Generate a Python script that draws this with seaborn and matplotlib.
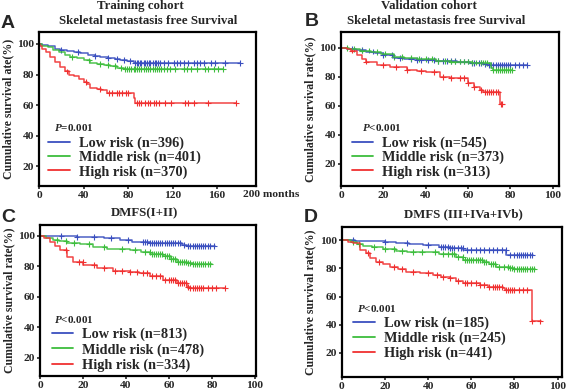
import numpy as np
import pandas as pd
import matplotlib
matplotlib.use('Agg')
import matplotlib.pyplot as plt
from matplotlib.lines import Line2D
import seaborn as sns

# ---- data (time in months, survival in %) ----
# Panel A: training cohort, skeletal metastasis free survival
a_low_t = [0, 3, 8, 14, 19, 25, 31, 37, 44, 50, 55, 62, 68, 73, 79, 85, 181]
a_low_s = [100, 99.5, 98.5, 97, 96, 95.2, 94.5, 93.9, 93, 92.3, 91.7, 90.8, 90, 89.5, 88.7, 87.7, 87.7]
a_mid_t = [0, 3, 8, 13, 18, 23, 28, 34, 40, 46, 52, 58, 64, 70, 76, 165]
a_mid_s = [100, 99, 97.8, 96, 94.5, 93, 91.7, 90.5, 89.2, 87.7, 87, 86.3, 85.6, 84.5, 83.4, 83.4]
a_high_t = [0, 1, 3, 6, 10, 14, 19, 23, 27, 31, 36, 40, 43, 46, 52, 56, 61, 82, 85, 86.5, 177]
a_high_s = [100, 98.5, 97, 94.5, 91.7, 88.5, 85, 82, 80, 79, 77, 75.3, 73.5, 71, 70.3, 69.8, 67.7, 67.7, 64.4, 61.5, 61.5]
a_low_c = [20, 35, 50, 62, 70, 76, 82, 86, 88, 89, 91, 92, 94, 95, 97, 99, 100, 102, 104, 105, 107, 109,
           112, 116, 121, 124, 127, 130, 134, 139, 142, 145, 148, 155, 158, 167, 181]
a_mid_c = [30, 45, 55, 62, 68, 74, 77, 79, 81, 83, 85, 86, 88, 90, 92, 94, 96, 98, 100, 102, 104, 106,
           108, 110, 112, 115, 118, 122, 130, 133, 137, 142, 149, 152, 157, 161, 165]
a_high_c = [25, 42, 55, 63, 66, 70, 72, 75, 78, 80, 88, 90, 92, 95, 98, 100, 103, 105, 108, 113, 119,
            131, 134, 139, 152, 177]

# Panel B: validation cohort
b_low_t = [0, 3, 7, 12, 16, 20, 25, 30, 36, 45, 55, 61, 67, 69, 88]
b_low_s = [100, 99.5, 98.5, 97.5, 96.3, 95.2, 93, 92.5, 91.7, 91.2, 90.6, 89.4, 89, 88.3, 88.3]
b_mid_t = [0, 4, 9, 14, 19, 25, 30, 36, 45, 52, 62, 69, 71, 72, 81]
b_mid_s = [100, 99.3, 98.2, 97.2, 95.9, 94, 93, 92.2, 91.2, 90.6, 89.9, 89.4, 86, 84.8, 84.8]
b_high_t = [0, 2.7, 4.5, 7.4, 10, 12, 16.8, 23, 31, 36, 40, 46.7, 51.4, 57.7, 60, 63, 65.5, 67, 74.7, 75, 76]
b_high_s = [100, 99.5, 98.2, 95.2, 92.5, 90.6, 88.3, 87.1, 84.8, 84, 83.2, 80.2, 79.5, 79.1, 76.1, 73.3,
            71, 69.9, 69.9, 61.2, 61.2]
b_low_c = [5, 10, 15, 20, 24, 28, 33, 36, 38, 41, 44, 46, 48, 50, 52, 54, 56, 58, 60, 62, 63, 65, 66,
           68, 70, 71, 72, 73, 74, 75, 76, 77, 78, 79, 80, 82, 84, 86, 88]
b_mid_c = [3, 6, 10, 13, 17, 21, 25, 29, 33, 37, 40, 43, 46, 49, 52, 54, 56, 58, 60, 62, 64, 66, 67,
           68, 69, 72, 73, 74, 75, 76, 77, 78, 79, 80, 81]
b_high_c = [5, 12, 20, 26, 31, 38, 44, 48, 52, 56, 58, 60, 63, 66, 68, 69, 70, 71, 72, 73, 74, 75.5, 76]

# Panel C: DMFS (I+II)
c_low_t = [0, 17, 23, 30, 37, 43, 51, 63.6, 66, 68.2, 81.4]
c_low_s = [100, 99.5, 99.2, 98.5, 97.4, 96.2, 95.6, 95.2, 94.3, 93.4, 93.4]
c_mid_t = [0, 3, 6.2, 9, 12.4, 18.6, 24.8, 31, 41.9, 47, 51.2, 57.4, 61, 63.6, 68.2, 71, 79.8]
c_mid_s = [100, 98.5, 97.4, 96.5, 95.6, 94.7, 93, 91.5, 90.8, 89.5, 88, 86.9, 85, 83.2, 82.1, 81.4, 81.4]
c_high_t = [0, 2, 4.7, 7, 9.3, 12.4, 15.5, 20.1, 26.4, 34.1, 41.9, 46, 51.2, 57.4, 63.6, 68.2, 69.8, 86]
c_high_s = [100, 98.5, 96.3, 93.5, 90.8, 86.4, 83.2, 81, 78.8, 77.3, 76.6, 75.5, 74, 71.1, 69, 66.8, 65.8, 65.8]
c_low_c = [10, 17, 25, 33, 41, 48, 49, 50, 51, 52, 53, 54, 55, 56, 57, 58, 59, 60, 61, 62, 63, 64, 65,
           67, 69, 70, 71, 72, 73, 74, 75, 76, 77, 78, 79, 81]
c_mid_c = [8, 12, 16, 23, 30, 38, 44, 49, 51, 52, 53, 54, 55, 56, 57, 58, 59, 60, 61, 62, 63, 64, 65,
           66, 67, 68, 69, 70, 71, 72, 73, 74, 75, 76, 77, 78, 79]
c_high_c = [12, 18, 20, 25, 30, 35, 38, 42, 45, 48, 50, 52, 54, 56, 58, 60, 61, 62, 63, 64, 65, 66, 67,
            68, 69, 70, 71, 72, 73, 74, 75, 76, 78, 80, 82, 86]

# Panel D: DMFS (III+IVa+IVb)
d_low_t = [0, 6, 14.5, 20, 25.3, 31, 37.6, 45, 50, 56.2, 74.7, 76.2, 88.6]
d_low_s = [100, 99.6, 99.3, 98.4, 97.6, 97, 96.5, 95, 94.1, 92.9, 92.9, 89.4, 89.4]
d_mid_t = [0, 4, 6.8, 9.9, 14, 19.1, 25, 30, 36, 45, 50, 53, 56.2, 65.4, 68, 71.6, 77.8, 80, 89.4]
d_mid_s = [100, 98.5, 97, 96, 95, 93.6, 92.5, 91.7, 91.3, 90.3, 89.9, 88, 85.8, 84.7, 83, 81.2, 80, 79.2, 79.2]
d_high_t = [0, 3, 5.2, 8.3, 11.4, 13, 16, 19, 22.2, 26, 29.9, 36, 42.3, 46, 50, 53, 56.2, 63.9, 67.7,
            74.7, 75.5, 87.8, 88, 92.5]
d_high_s = [100, 98.8, 97.6, 92.9, 90.6, 87, 84.7, 83, 81.1, 79.5, 77.6, 76.5, 75.2, 74, 72.8, 71, 69.3,
            68.1, 67, 66.3, 64.6, 64.6, 42.3, 42.3]
d_low_c = [5, 20, 30, 40, 46, 47, 48, 49, 50, 51, 52, 54, 55, 56, 58, 60, 62, 64, 66, 68, 70, 72, 74,
           76, 78, 80, 81, 82, 83, 84, 85, 86, 87, 88]
d_mid_c = [5, 8, 15, 20, 24, 28, 33, 37, 43, 47, 49, 51, 52, 54, 56, 57, 58, 59, 60, 61, 62, 63, 64,
           65, 66, 67, 69, 70, 71, 73, 75, 77, 78, 79, 80, 81, 82, 83, 84, 85, 86, 87, 88, 89]
d_high_c = [12, 17, 24, 28, 33, 40, 44, 47, 50, 54, 57, 58, 60, 62, 64, 66, 68, 70, 71, 72, 73, 74, 76,
            77, 78, 79, 80, 82, 84, 86, 88, 92]

groups = ['Low risk', 'Middle risk', 'High risk']
palette = {'Low risk': '#3a4fbf', 'Middle risk': '#3dbd3d', 'High risk': '#f03030'}

a_n = [396, 401, 370]
b_n = [545, 373, 313]
c_n = [813, 478, 334]
d_n = [185, 245, 441]
a_p = '$P$=0.001'
b_p = '$P$<0.001'
c_p = '$P$<0.001'
d_p = '$P$<0.001'

sns.set_style('white')
plt.rcParams['font.family'] = ['Liberation Serif', 'DejaVu Serif']
plt.rcParams['font.weight'] = 'bold'
plt.rcParams['axes.labelweight'] = 'bold'
plt.rcParams['mathtext.fontset'] = 'custom'
plt.rcParams['mathtext.it'] = 'Liberation Serif:italic:bold'
plt.rcParams['mathtext.rm'] = 'Liberation Serif:bold'


def make_frames(curves, censors):
    lines, marks = [], []
    for g, (t, s), c in zip(groups, curves, censors):
        lines.append(pd.DataFrame({'time': t, 'surv': s, 'group': g}))
        t = np.asarray(t)
        s = np.asarray(s)
        idx = np.searchsorted(t, c, side='right') - 1
        marks.append(pd.DataFrame({'time': c, 'surv': s[idx], 'group': g}))
    return pd.concat(lines, ignore_index=True), pd.concat(marks, ignore_index=True)


def draw_panel(ax, curves, censors, ns, ptext, xlim, ylim, xticks, ylabel, ptxt_pos, leg_pos, spacing):
    df, cdf = make_frames(curves, censors)
    sns.lineplot(data=df, x='time', y='surv', hue='group', palette=palette, drawstyle='steps-post',
                 estimator=None, sort=False, legend=False, linewidth=1.1, alpha=0.9, ax=ax)
    sns.scatterplot(data=cdf, x='time', y='surv', hue='group', palette=palette, marker='+', s=18,
                    linewidth=0.8, legend=False, ax=ax)
    ax.set_xlim(*xlim)
    ax.set_ylim(*ylim)
    ax.set_xticks(xticks)
    ax.set_yticks([20, 40, 60, 80, 100])
    ax.set_xlabel('')
    ax.set_ylabel(ylabel, fontsize=8.5)
    ax.yaxis.set_label_coords(-0.115, 0.5)
    for sp in ax.spines.values():
        sp.set_visible(True)
        sp.set_linewidth(1.6)
        sp.set_color('black')
    ax.tick_params(axis='both', direction='out', length=2.5, width=1.2, pad=1.2, labelsize=8.2,
                   bottom=True, left=True)
    ax.text(ptxt_pos[0], ptxt_pos[1], ptext, transform=ax.transAxes, fontsize=8, va='center')
    handles = [Line2D([0], [0], color=palette[g], lw=1.3) for g in groups]
    labels = [f'{g} (n={n})' for g, n in zip(groups, ns)]
    ax.legend(handles, labels, loc='upper left', bbox_to_anchor=leg_pos, frameon=False,
              fontsize=10.3, handlelength=1.5, handletextpad=0.65, labelspacing=spacing,
              borderpad=0, borderaxespad=0)


fig = plt.figure(figsize=(5.67, 3.91), dpi=100)
axA = fig.add_axes([0.0688, 0.5243, 0.3827, 0.394])
axB = fig.add_axes([0.6014, 0.5243, 0.3845, 0.394])
axC = fig.add_axes([0.0705, 0.0384, 0.381, 0.3862])
axD = fig.add_axes([0.603, 0.0358, 0.388, 0.3836])

draw_panel(axA, [(a_low_t, a_low_s), (a_mid_t, a_mid_s), (a_high_t, a_high_s)],
           [a_low_c, a_mid_c, a_high_c], a_n, a_p, (0, 195), (6.9, 107.9), [0, 40, 80, 120, 160],
           'Cumulative survival ate(%)', (0.07, 0.379), (0.043, 0.32), 0.05)
axA.text(0.94, -0.058, '200 months', transform=axA.transAxes, fontsize=8.2, va='center',
         ha='left', clip_on=False)

draw_panel(axB, [(b_low_t, b_low_s), (b_mid_t, b_mid_s), (b_high_t, b_high_s)],
           [b_low_c, b_mid_c, b_high_c], b_n, b_p, (0, 103), (4.8, 111), [0, 20, 40, 60, 80, 100],
           'Cumulative survival rate(%)', (0.098, 0.379), (0.049, 0.32), 0.05)

draw_panel(axC, [(c_low_t, c_low_s), (c_mid_t, c_mid_s), (c_high_t, c_high_s)],
           [c_low_c, c_mid_c, c_high_c], c_n, c_p, (0, 100.5), (8.2, 107.2), [0, 20, 40, 60, 80, 100],
           'Cumulative survival rate(%)', (0.066, 0.377), (0.054, 0.318), 0.12)

draw_panel(axD, [(d_low_t, d_low_s), (d_mid_t, d_mid_s), (d_high_t, d_high_s)],
           [d_low_c, d_mid_c, d_high_c], d_n, d_p, (0, 102), (3, 109.2), [0, 20, 40, 60, 80, 100],
           'Cumulative survival rate(%)', (0.067, 0.458), (0.051, 0.405), 0.13)

W, H = 567.0, 391.0
def ftext(x, y, s, **kw):
    fig.text(x / W, 1 - y / H, s, ha='center', va='center', **kw)

ftext(140, 6, 'Training cohort', fontsize=9.3)
ftext(148, 21, 'Skeletal metastasis free Survival', fontsize=9.3)
ftext(429, 6, 'Validation cohort', fontsize=9.3)
ftext(436, 21, 'Skeletal metastasis free Survival', fontsize=9.3)
ftext(145, 213, 'DMFS(I+II)', fontsize=9.3)
ftext(463, 214, 'DMFS (III+IVa+IVb)', fontsize=9.3)

for lab, x, y in [('A', 8, 23), ('B', 312, 22), ('C', 8, 217), ('D', 311, 217)]:
    ftext(x, y, lab, fontsize=14, family='Liberation Sans', fontweight='bold')

fig.savefig('out.png', dpi=100)
